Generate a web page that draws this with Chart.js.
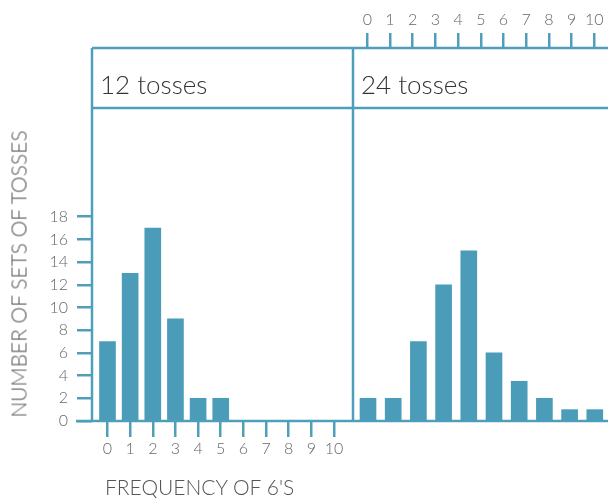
<!DOCTYPE html>
<html>
<head>
<meta charset="utf-8">
<script src="https://cdn.jsdelivr.net/npm/chart.js@4/dist/chart.umd.min.js"></script>
<style>
    html, body { margin: 0; padding: 0; background: #fff; }
    #wrap { position: relative; width: 608px; height: 498px; overflow: hidden; font-family: Lato, 'Open Sans', sans-serif; font-weight: 300; }
    #wrap canvas { position: absolute; left: 0; top: 0; }
    .txt { position: absolute; white-space: nowrap; line-height: 1; }
    .hdr { font-size: 26px; color: #333; top: 71px; }
    .axis-title { font-size: 21px; color: #555; }
    #ytitle { left: 18px; top: 274px; transform: translate(-50%, -50%) rotate(-90deg); }
    #xtitle { left: 105px; top: 476px; }
</style>
</head>
<body>
<div id="wrap">
    <canvas id="chart-12" width="608" height="498"></canvas>
    <canvas id="chart-24" width="608" height="498"></canvas>
    <div class="txt hdr" id="hdr-12" style="left:100px"></div>
    <div class="txt hdr" id="hdr-24" style="left:361px"></div>
    <div class="txt axis-title" id="ytitle"></div>
    <div class="txt axis-title" id="xtitle"></div>
</div>
<script>
// frequency of 6's shown on the axes
const freqTicks = [0, 1, 2, 3, 4, 5, 6, 7, 8, 9, 10];
const countTicks = [0, 2, 4, 6, 8, 10, 12, 14, 16, 18];

// 12 tosses per set
const freq12 = [0, 1, 2, 3, 4, 5, 6, 7, 8, 9, 10];
const sets12 = [7, 13, 17, 9, 2, 2, 0, 0, 0, 0, 0];

// 24 tosses per set
const freq24 = [0, 1, 2, 3, 4, 5, 6, 7, 8, 9];
const sets24 = [2, 2, 7, 12, 15, 6, 3.5, 2, 1, 1];

const panelTitles = ['12 tosses', '24 tosses'];
const yTitle = 'NUMBER OF SETS OF TOSSES';
const xTitle = "FREQUENCY OF 6'S";

const BAR = '#4a9cb8';
const LINE = '#4f9fba';
const TICK_TEXT = '#666';
const tickFont = { family: 'Lato', weight: '300', size: 16 };

document.getElementById('hdr-12').textContent = panelTitles[0];
document.getElementById('hdr-24').textContent = panelTitles[1];
document.getElementById('ytitle').textContent = yTitle;
document.getElementById('xtitle').textContent = xTitle;

const yMax = 32.86;

// panel frame: outer box, header row, divider, base line
const framePlugin = {
    id: 'frame',
    afterDraw(chart) {
        const { ctx, chartArea: a, width } = chart;
        ctx.save();
        ctx.strokeStyle = LINE;
        ctx.lineWidth = 2.5;
        ctx.beginPath();
        ctx.moveTo(a.left, a.top); ctx.lineTo(width, a.top);
        ctx.moveTo(a.left, a.top + 60); ctx.lineTo(width, a.top + 60);
        ctx.moveTo(a.left, a.top); ctx.lineTo(a.left, a.bottom);
        ctx.moveTo(a.right, a.top); ctx.lineTo(a.right, a.bottom);
        ctx.moveTo(76, a.bottom); ctx.lineTo(width, a.bottom);
        ctx.stroke();
        ctx.restore();
    },
};

const fixTicks = list => scale => { scale.ticks = list.map(v => ({ value: v })); };

new Chart(document.getElementById('chart-12'), {
    type: 'bar',
    data: {
        datasets: [{
            data: freq12.map((f, i) => ({ x: f, y: sets12[i] })),
            backgroundColor: BAR,
            barThickness: 16,
        }],
    },
    options: {
        responsive: false,
        animation: false,
        layout: { padding: { left: 0, right: 255, top: 48, bottom: 0 } },
        plugins: { legend: { display: false }, tooltip: { enabled: false } },
        scales: {
            x: {
                type: 'linear',
                offset: false,
                min: -0.684,
                max: 10.839,
                afterBuildTicks: fixTicks(freqTicks),
                afterFit: s => { s.height = 77; },
                border: { display: false },
                grid: { offset: false, drawOnChartArea: false, tickLength: 16, color: LINE, lineWidth: 2.5 },
                ticks: { color: TICK_TEXT, font: tickFont, padding: 2, autoSkip: false, maxRotation: 0 },
            },
            y: {
                min: 0,
                max: yMax,
                afterBuildTicks: fixTicks(countTicks),
                afterFit: s => { s.width = 92; },
                border: { display: false },
                grid: { drawOnChartArea: false, tickLength: 15, color: LINE, lineWidth: 2.5 },
                ticks: { color: TICK_TEXT, font: tickFont, padding: 9 },
            },
        },
    },
    plugins: [framePlugin],
});

new Chart(document.getElementById('chart-24'), {
    type: 'bar',
    data: {
        datasets: [{
            data: freq24.map((f, i) => ({ x: f, y: sets24[i] })),
            backgroundColor: BAR,
            barThickness: 16,
            xAxisID: 'x',
        }],
    },
    options: {
        responsive: false,
        animation: false,
        layout: { padding: { left: 353, right: 0, top: 0, bottom: 77 } },
        plugins: { legend: { display: false }, tooltip: { enabled: false } },
        scales: {
            x: {
                type: 'linear',
                offset: false,
                min: -0.595,
                max: 9.524,
                display: false,
            },
            xTop: {
                type: 'linear',
                position: 'top',
                offset: false,
                min: -0.63,
                max: 10.604,
                afterBuildTicks: fixTicks(freqTicks),
                afterFit: s => { s.height = 48; },
                border: { display: false },
                grid: { offset: false, drawOnChartArea: false, tickLength: 15, color: LINE, lineWidth: 2.5 },
                ticks: { color: TICK_TEXT, font: tickFont, padding: 4, autoSkip: false, maxRotation: 0 },
            },
            y: {
                min: 0,
                max: yMax,
                display: false,
            },
        },
    },
});
</script>
</body>
</html>
